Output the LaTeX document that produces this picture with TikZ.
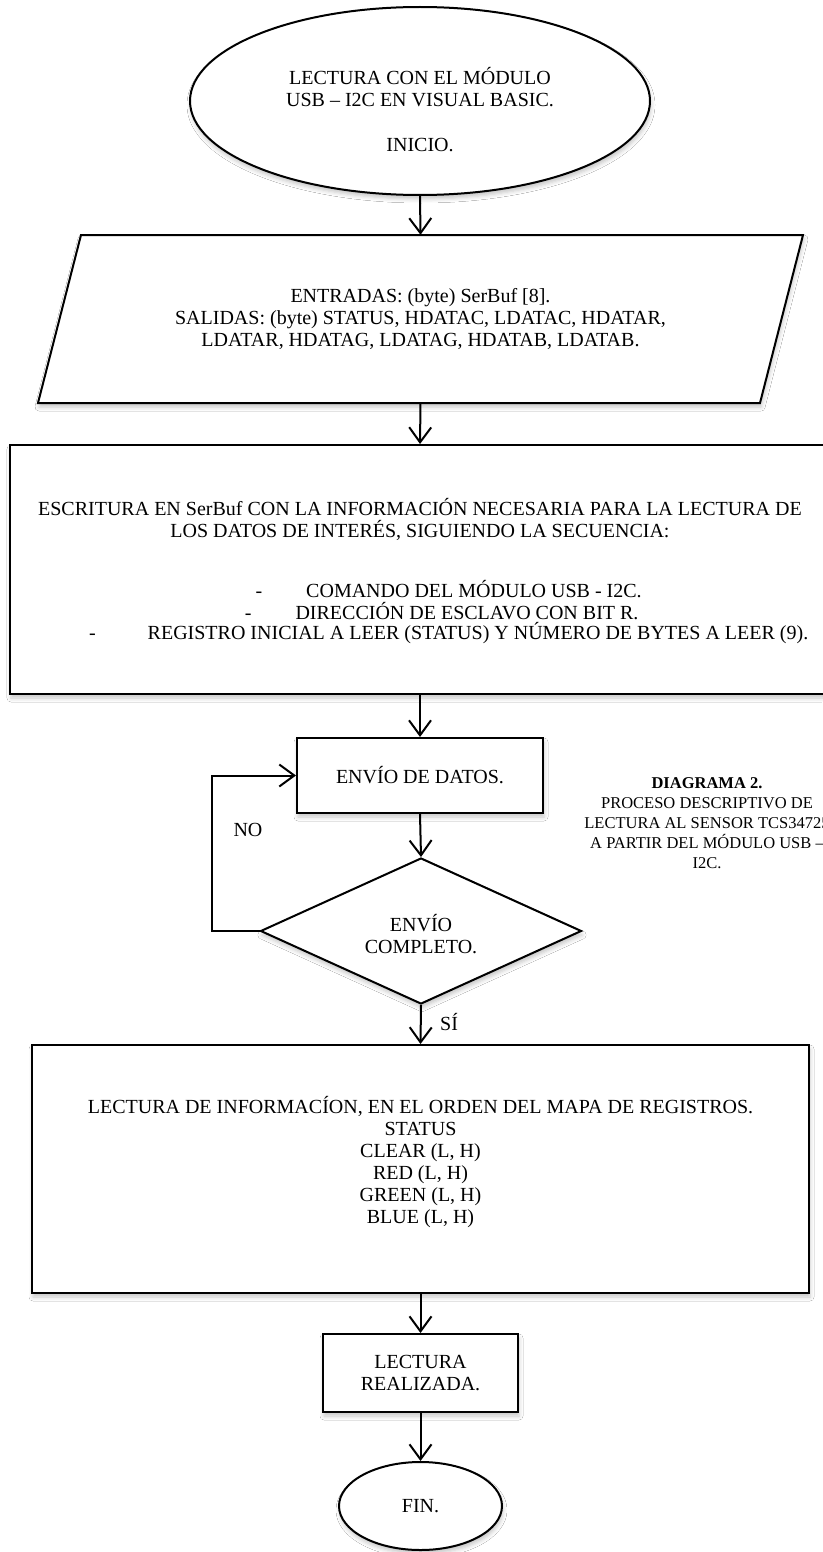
\documentclass[tikz,border=0pt]{standalone}
\usepackage{fontspec}
\setmainfont{Liberation Serif}
\usetikzlibrary{arrows.meta,shapes.geometric,shadows.blur}
\newcommand\mainsz{\fontsize{20}{22}\selectfont}
\newcommand\capsz{\fontsize{16.5}{20}\selectfont}
\begin{document}
\begin{tikzpicture}[x=1pt,y=-1pt,
  shd/.style={blur shadow={shadow xshift=1pt, shadow yshift=-4pt, shadow blur radius=4pt, shadow opacity=22}},
  box/.style={draw, line width=2pt, fill=white, shd, inner sep=0pt, align=center, font=\mainsz},
  ell/.style={box, shape=ellipse},
  txt/.style={inner sep=0pt, align=center, font=\mainsz},
  capt/.style={inner sep=0pt, align=center, font=\capsz},
  outline/.style={draw, line width=2pt, fill=white, shd, line join=miter},
  arr/.style={draw, line width=2pt, -{Straight Barb[length=15pt,width=22pt]}}]
\path[use as bounding box, fill=white] (0,0) rectangle (822,1552);

% start
\node[ell, minimum width=460pt, minimum height=188pt] (start) at (420,101) {};
\node[txt] (starttxt) at (420,110) {LECTURA CON EL MÓDULO\\USB – I2C EN VISUAL BASIC.\\[23pt]INICIO.};

% input / output parallelogram
\coordinate (inTL) at (81,235);
\coordinate (inTR) at (803,235);
\coordinate (inBR) at (760,403);
\coordinate (inBL) at (38,403);
\draw[outline] (inTL) -- (inTR) -- (inBR) -- (inBL) -- cycle;
\node[txt, minimum width=722pt, minimum height=168pt] (in) at (420.5,319)
  {ENTRADAS: (byte) SerBuf [8].\\SALIDAS: (byte) STATUS, HDATAC, LDATAC, HDATAR,\\LDATAR, HDATAG, LDATAG, HDATAB, LDATAB.};

% process box
\node[box, minimum width=820pt, minimum height=249pt] (proc) at (420,569.5) {};
\node[txt] (proct) at (420,519) {ESCRITURA EN SerBuf CON LA INFORMACIÓN NECESARIA PARA LA LECTURA DE\\LOS DATOS DE INTERÉS, SIGUIENDO LA SECUENCIA:};
\node[txt] (b1) at (474,589) {COMANDO DEL MÓDULO USB - I2C.};
\node[txt, anchor=base] (d1) at ([xshift=-47pt]b1.base west) {-};
\node[txt] (b2) at (467,611) {DIRECCIÓN DE ESCLAVO CON BIT R.};
\node[txt, anchor=base] (d2) at ([xshift=-47pt]b2.base west) {-};
\node[txt] (b3) at (478,633) {REGISTRO INICIAL A LEER (STATUS) Y NÚMERO DE BYTES A LEER (9).};
\node[txt, anchor=base] (d3) at ([xshift=-55pt]b3.base west) {-};

% send
\node[box, minimum width=246pt, minimum height=75pt] (send) at (420,775.5) {ENVÍO DE DATOS.};

% decision
\node[box, shape=diamond, minimum width=321pt, minimum height=146pt] (dec) at (421,931) {};
\node[txt] (dect) at (421,934) {ENVÍO\\COMPLETO.};

\node[txt] (no) at (248,830) {NO};
\node[txt, anchor=west] (si) at (440,1022) {SÍ};

% read
\node[box, minimum width=777pt, minimum height=248pt] (read) at (420.5,1169) {};
\node[txt] (readt) at (420.5,1162) {LECTURA DE INFORMACÍON, EN EL ORDEN DEL MAPA DE REGISTROS.\\STATUS\\CLEAR (L, H)\\RED (L, H)\\GREEN (L, H)\\BLUE (L, H)};

% done
\node[box, minimum width=195pt, minimum height=78pt] (done) at (420.5,1373) {LECTURA\\REALIZADA.};

% end
\node[ell, minimum width=163pt, minimum height=88pt] (fin) at (420.5,1506) {FIN.};

% caption
\node[capt] (cap) at (707,823) {\textbf{DIAGRAMA 2.}\\PROCESO DESCRIPTIVO DE\\LECTURA AL SENSOR TCS34725\\A PARTIR DEL MÓDULO USB –\\I2C.};

% connectors
\draw[arr] (start.south) -- (in.north);
\draw[arr] (in.south) -- (proc.north);
\draw[arr] (proc.south) -- (send.north);
\draw[arr] (send.south) -- (dec.north);
\draw[arr] (dec.west) -- ++(-48,0) |- (send.west);
\draw[arr] (dec.south) -- (read.north);
\draw[arr] (read.south) -- (done.north);
\draw[arr] (done.south) -- (fin.north);
\end{tikzpicture}
\end{document}
